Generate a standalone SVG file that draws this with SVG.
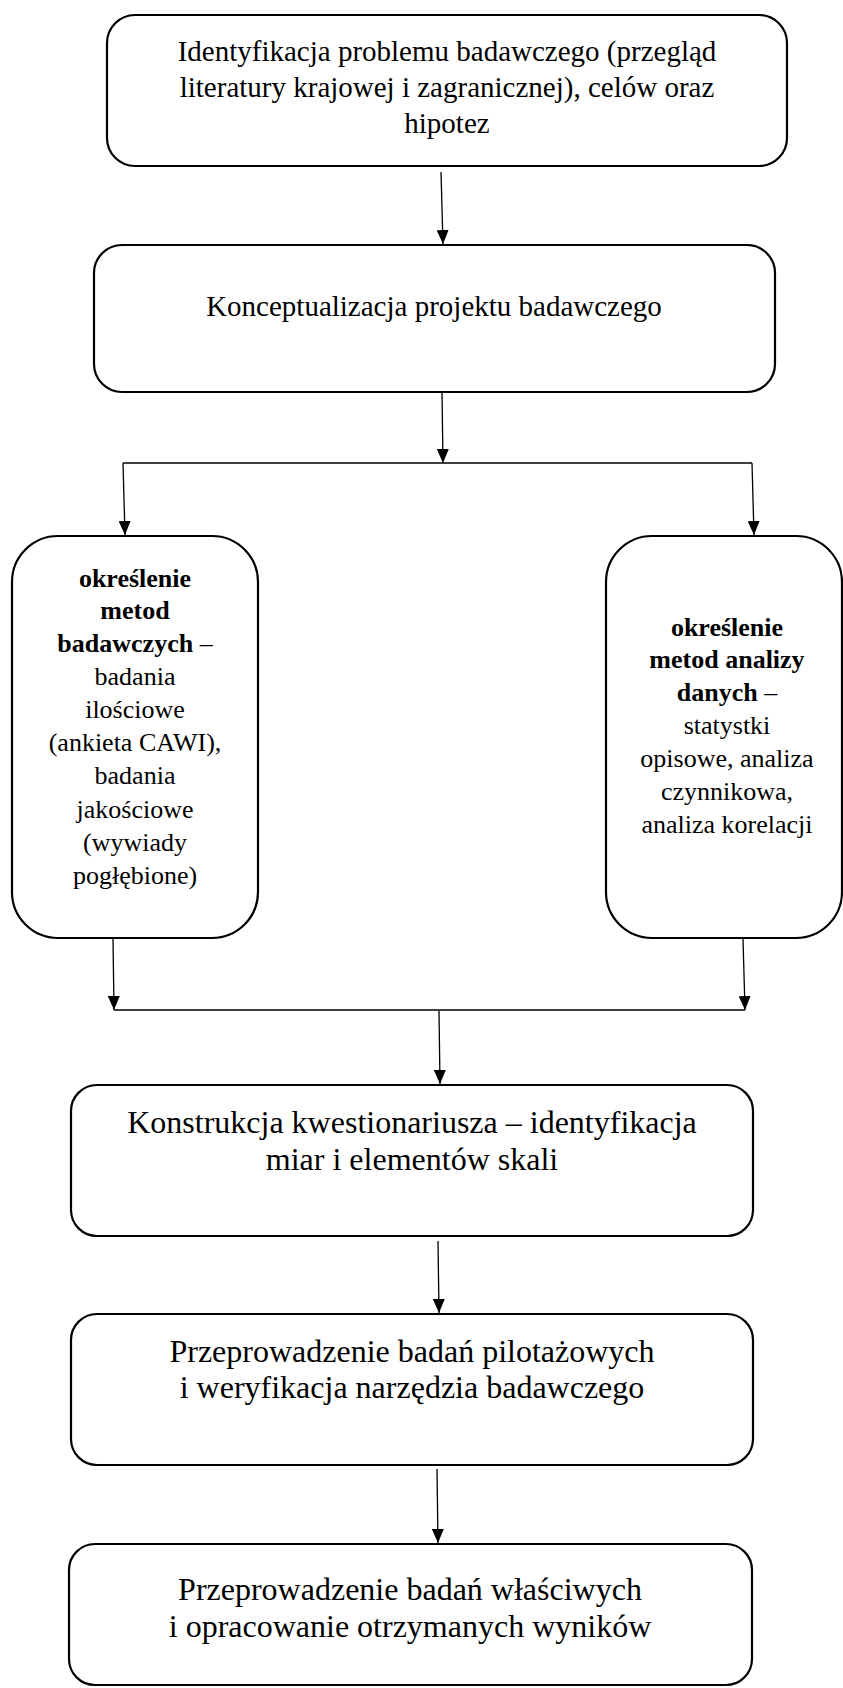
<svg xmlns="http://www.w3.org/2000/svg" width="843" height="1688" viewBox="0 0 843 1688">
<style>
.box{fill:#fff;stroke:#000;stroke-width:2.2}
.t{font-family:"Liberation Serif","Times New Roman",serif;fill:#000;text-anchor:middle}
.big{font-size:29px}
.mid{font-size:26px}
.lg{font-size:32px}
.b{font-weight:bold}
.c{fill:none;stroke:#000;stroke-width:1.3}
</style>
<defs>
<marker id="ah" viewBox="0 0 14 12" refX="14" refY="6" markerWidth="14" markerHeight="12" markerUnits="userSpaceOnUse" orient="auto">
<path d="M0,0 L14,6 L0,12 z" fill="#000"/>
</marker>
</defs>
<rect width="843" height="1688" fill="#fff"/>

<g id="n1">
<rect class="box" x="107" y="15" width="680" height="151" rx="28"/>
<text class="t big" x="447" y="61">Identyfikacja problemu badawczego (przegląd</text>
<text class="t big" x="447" y="97">literatury krajowej i zagranicznej), celów oraz</text>
<text class="t big" x="447" y="133">hipotez</text>
</g>

<g id="n2">
<rect class="box" x="94" y="245" width="681" height="147" rx="28"/>
<text class="t big" x="434" y="316">Konceptualizacja projektu badawczego</text>
</g>

<g id="n3">
<rect class="box" x="12" y="536" width="246" height="402" rx="46"/>
<text class="t mid" x="135" y="587"><tspan class="b">określenie</tspan></text>
<text class="t mid" x="135" y="619"><tspan class="b">metod</tspan></text>
<text class="t mid" x="135" y="652"><tspan class="b">badawczych</tspan> –</text>
<text class="t mid" x="135" y="685">badania</text>
<text class="t mid" x="135" y="718">ilościowe</text>
<text class="t mid" x="135" y="751">(ankieta CAWI),</text>
<text class="t mid" x="135" y="784">badania</text>
<text class="t mid" x="135" y="818">jakościowe</text>
<text class="t mid" x="135" y="851">(wywiady</text>
<text class="t mid" x="135" y="884">pogłębione)</text>
</g>

<g id="n4">
<rect class="box" x="606" y="536" width="236" height="402" rx="46"/>
<text class="t mid" x="727" y="636"><tspan class="b">określenie</tspan></text>
<text class="t mid" x="727" y="668"><tspan class="b">metod analizy</tspan></text>
<text class="t mid" x="727" y="701"><tspan class="b">danych</tspan> –</text>
<text class="t mid" x="727" y="734">statystki</text>
<text class="t mid" x="727" y="767">opisowe, analiza</text>
<text class="t mid" x="727" y="800">czynnikowa,</text>
<text class="t mid" x="727" y="833">analiza korelacji</text>
</g>

<g id="n5">
<rect class="box" x="71" y="1085" width="682" height="151" rx="26"/>
<text class="t lg" x="412" y="1133">Konstrukcja kwestionariusza – identyfikacja</text>
<text class="t lg" x="412" y="1170">miar i elementów skali</text>
</g>

<g id="n6">
<rect class="box" x="71" y="1314" width="682" height="151" rx="26"/>
<text class="t lg" x="412" y="1362">Przeprowadzenie badań pilotażowych</text>
<text class="t lg" x="412" y="1398">i weryfikacja narzędzia badawczego</text>
</g>

<g id="n7">
<rect class="box" x="69" y="1544" width="683" height="141" rx="26"/>
<text class="t lg" x="410" y="1600">Przeprowadzenie badań właściwych</text>
<text class="t lg" x="410" y="1637">i opracowanie otrzymanych wyników</text>
</g>

<g id="connectors">
<path class="c" d="M441,172 L443,244" marker-end="url(#ah)"/>
<path class="c" d="M442,393 L443,463" marker-end="url(#ah)"/>
<path class="c" d="M123,463 L752,463"/>
<path class="c" d="M123,463 L125,535" marker-end="url(#ah)"/>
<path class="c" d="M752,463 L754,535" marker-end="url(#ah)"/>
<path class="c" d="M113,939 L114,1010" marker-end="url(#ah)"/>
<path class="c" d="M743,939 L745,1010" marker-end="url(#ah)"/>
<path class="c" d="M114,1010 L745,1010"/>
<path class="c" d="M439,1011 L440,1084" marker-end="url(#ah)"/>
<path class="c" d="M438,1241 L439,1313" marker-end="url(#ah)"/>
<path class="c" d="M437,1469 L438,1543" marker-end="url(#ah)"/>
</g>
</svg>
